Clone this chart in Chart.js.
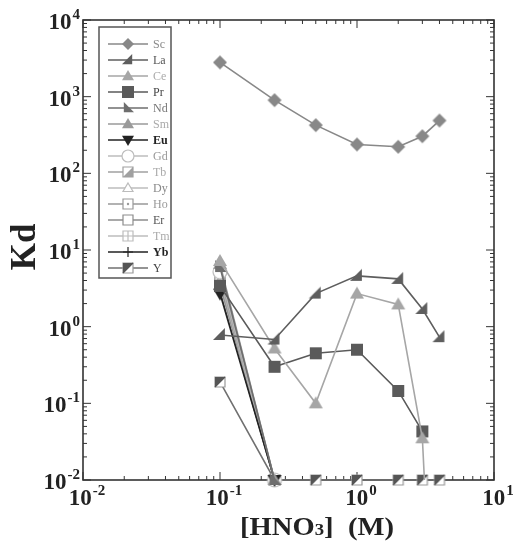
<!DOCTYPE html>
<html><head><meta charset="utf-8">
<script src="https://cdn.jsdelivr.net/npm/chart.js@4/dist/chart.umd.min.js"></script>
<style>html,body{margin:0;padding:0;background:#fff}#wrap{width:515px;height:551px}</style>
</head><body><div id="wrap"><canvas id="c" width="515" height="551"></canvas></div>
<script>
// ---- data ----
const hno3 = [0.1, 0.25, 0.5, 1, 2, 3, 4];
const seriesNames = ["Sc","La","Ce","Pr","Nd","Sm","Eu","Gd","Tb","Dy","Ho","Er","Tm","Yb","Y"];
const Sc = [2800, 900, 425, 238, 222, 305, 488];
const La = [0.78, 0.68, 2.7, 4.6, 4.2, 1.7, 0.73];
const Ce = [7.2, 0.52, 0.10, 2.7, 1.95, 0.035, 0.000001];
const Pr = [3.4, 0.30, 0.45, 0.50, 0.145, 0.043, null];
const Nd = [6.0, 0.01, null, null, null, null, null];
const Sm = [6.6, 0.01, null, null, null, null, null];
const Eu = [2.7, 0.01, null, null, null, null, null];
const Gd = [5.2, 0.01, null, null, null, null, null];
const Tb = [4.6, 0.01, null, null, null, null, null];
const Dy = [4.2, 0.01, null, null, null, null, null];
const Ho = [3.9, 0.01, null, null, null, null, null];
const Er = [3.6, 0.01, null, null, null, null, null];
const Tm = [3.3, 0.01, null, null, null, null, null];
const Yb = [3.0, 0.01, null, null, null, null, null];
const Y  = [0.19, 0.01, 0.01, 0.01, 0.01, 0.01, 0.01];
const xTickExps = [-2, -1, 0, 1];
const yTickExps = [-2, -1, 0, 1, 2, 3, 4];
const yTitle = "Kd";

// ---- styles ----
const styles = {
  Sc:{m:"diamond", c:"#888888", r:7, t:"#8a8a8a"},
  La:{m:"rtBR", c:"#5e5e5e", r:7, t:"#555"},
  Ce:{m:"triUp", c:"#a6a6a6", r:7, t:"#aaa"},
  Pr:{m:"square", c:"#5a5a5a", r:6, t:"#444"},
  Nd:{m:"rtBL", c:"#6e6e6e", r:7, t:"#777"},
  Sm:{m:"triUp", c:"#9a9a9a", r:7, t:"#aaa"},
  Eu:{m:"triDown", c:"#222222", r:7, t:"#222", b:true},
  Gd:{m:"circle", c:"#bdbdbd", r:7, t:"#999"},
  Tb:{m:"sqTri", c:"#a0a0a0", r:5, t:"#aaa"},
  Dy:{m:"triOpen", c:"#bcbcbc", r:5, t:"#888"},
  Ho:{m:"sqDot", c:"#999999", r:5, t:"#999"},
  Er:{m:"sqOpen", c:"#8c8c8c", r:5, t:"#555"},
  Tm:{m:"sqPlus", c:"#bdbdbd", r:5, t:"#aaa"},
  Yb:{m:"plus", c:"#222222", r:5, t:"#222", b:true},
  Y: {m:"sqHalf", c:"#707070", r:5, t:"#444"}
};

function drawMarker(ctx, type, x, y, r, c){
  ctx.save();
  ctx.translate(x, y);
  ctx.lineWidth = 1.2;
  ctx.strokeStyle = c; ctx.fillStyle = c;
  ctx.beginPath();
  switch(type){
    case "diamond": ctx.moveTo(0,-r); ctx.lineTo(r,0); ctx.lineTo(0,r); ctx.lineTo(-r,0); ctx.closePath(); ctx.fill(); break;
    case "rtBR": ctx.moveTo(-r,r*0.7); ctx.lineTo(r*0.7,r*0.7); ctx.lineTo(r*0.7,-r); ctx.closePath(); ctx.fill(); break;
    case "rtBL": ctx.moveTo(-r*0.7,-r); ctx.lineTo(-r*0.7,r*0.7); ctx.lineTo(r,r*0.7); ctx.closePath(); ctx.fill(); break;
    case "triUp": ctx.moveTo(0,-r); ctx.lineTo(r,r*0.7); ctx.lineTo(-r,r*0.7); ctx.closePath(); ctx.fill(); break;
    case "triDown": ctx.moveTo(0,r); ctx.lineTo(r,-r*0.7); ctx.lineTo(-r,-r*0.7); ctx.closePath(); ctx.fill(); break;
    case "square": ctx.rect(-r,-r,2*r,2*r); ctx.fill(); break;
    case "circle": ctx.arc(0,0,r,0,Math.PI*2); ctx.fillStyle="#fff"; ctx.fill(); ctx.stroke(); break;
    case "sqTri": ctx.rect(-r,-r,2*r,2*r); ctx.fillStyle="#fff"; ctx.fill(); ctx.stroke();
      ctx.beginPath(); ctx.moveTo(-r,r); ctx.lineTo(r,r); ctx.lineTo(r,-r); ctx.closePath(); ctx.fillStyle=c; ctx.fill(); break;
    case "triOpen": ctx.moveTo(0,-r); ctx.lineTo(r,r*0.7); ctx.lineTo(-r,r*0.7); ctx.closePath(); ctx.fillStyle="#fff"; ctx.fill(); ctx.stroke(); break;
    case "sqDot": ctx.rect(-r,-r,2*r,2*r); ctx.fillStyle="#fff"; ctx.fill(); ctx.stroke();
      ctx.beginPath(); ctx.arc(0,0,1.2,0,Math.PI*2); ctx.fillStyle=c; ctx.fill(); break;
    case "sqOpen": ctx.rect(-r,-r,2*r,2*r); ctx.fillStyle="#fff"; ctx.fill(); ctx.stroke(); break;
    case "sqPlus": ctx.rect(-r,-r,2*r,2*r); ctx.fillStyle="#fff"; ctx.fill(); ctx.stroke();
      ctx.beginPath(); ctx.moveTo(-r,0); ctx.lineTo(r,0); ctx.moveTo(0,-r); ctx.lineTo(0,r); ctx.stroke(); break;
    case "plus": ctx.moveTo(-r,0); ctx.lineTo(r,0); ctx.moveTo(0,-r); ctx.lineTo(0,r); ctx.stroke(); break;
    case "sqHalf": ctx.rect(-r,-r,2*r,2*r); ctx.fillStyle="#fff"; ctx.fill(); ctx.strokeStyle="#999"; ctx.stroke();
      ctx.beginPath(); ctx.moveTo(-r,-r); ctx.lineTo(r,-r); ctx.lineTo(-r,r); ctx.closePath(); ctx.fillStyle="#555"; ctx.fill();
      ctx.beginPath(); ctx.moveTo(r,-r); ctx.lineTo(-r,r); ctx.strokeStyle="#555"; ctx.stroke(); break;
  }
  ctx.restore();
}
function markerCanvas(type, r, c){
  const cv = document.createElement("canvas");
  const s = Math.ceil(2*r+4);
  cv.width = s; cv.height = s;
  drawMarker(cv.getContext("2d"), type, s/2, s/2, r, c);
  return cv;
}

const seriesData = {Sc,La,Ce,Pr,Nd,Sm,Eu,Gd,Tb,Dy,Ho,Er,Tm,Yb,Y};
const datasets = seriesNames.map(n => {
  const st = styles[n];
  return {
    label: n,
    data: hno3.map((x,i) => ({x, y: seriesData[n][i]})),
    borderColor: st.c,
    backgroundColor: st.c,
    borderWidth: 1.6,
    pointStyle: markerCanvas(st.m, st.r, st.c),
    pointRadius: st.r,
    tension: 0,
    spanGaps: false,
    clip: n === "Ce" ? 0 : false
  };
});

const serif = '"Liberation Serif", "DejaVu Serif", serif';

function drawPow(ctx, exp, x, y, align){
  ctx.save();
  ctx.fillStyle = "#222";
  ctx.textBaseline = "alphabetic";
  ctx.font = "bold 23px " + serif;
  const wb = ctx.measureText("10").width;
  ctx.font = "bold 15px " + serif;
  const es = String(exp);
  const we = ctx.measureText(es).width;
  let x0 = align === "right" ? x - wb - we - 1 : x - (wb + we + 1)/2;
  ctx.font = "bold 23px " + serif;
  ctx.textAlign = "left";
  ctx.fillText("10", x0, y);
  ctx.font = "bold 15px " + serif;
  ctx.fillText(es, x0 + wb + 1, y - 10);
  ctx.restore();
}

const axesPlugin = {
  id: "axesPlugin",
  beforeDatasetsDraw(chart){
    const {ctx, chartArea: a, scales} = chart;
    const xs = scales.x, ys = scales.y;
    ctx.save();
    ctx.strokeStyle = "#333"; ctx.lineWidth = 1.6;
    ctx.strokeRect(a.left, a.top, a.right - a.left, a.bottom - a.top);
    ctx.lineWidth = 1;
    ctx.beginPath();
    for (let d = xTickExps[0]; d <= xTickExps[xTickExps.length-1]; d++){
      for (let k = 1; k <= 9; k++){
        const v = k * Math.pow(10, d);
        if (v > Math.pow(10, xTickExps[xTickExps.length-1]) + 1e-9) break;
        const px = xs.getPixelForValue(v);
        const L = k === 1 ? 8 : 4;
        ctx.moveTo(px, a.bottom); ctx.lineTo(px, a.bottom - L);
        ctx.moveTo(px, a.top); ctx.lineTo(px, a.top + L);
      }
    }
    for (let d = yTickExps[0]; d <= yTickExps[yTickExps.length-1]; d++){
      for (let k = 1; k <= 9; k++){
        const v = k * Math.pow(10, d);
        if (v > Math.pow(10, yTickExps[yTickExps.length-1]) + 1e-9) break;
        const py = ys.getPixelForValue(v);
        const L = k === 1 ? 8 : 4;
        ctx.moveTo(a.left, py); ctx.lineTo(a.left + L, py);
        ctx.moveTo(a.right, py); ctx.lineTo(a.right - L, py);
      }
    }
    ctx.stroke();
    ctx.restore();
  },
  afterDraw(chart){
    const {ctx, chartArea: a, scales} = chart;
    const xs = scales.x, ys = scales.y;
    xTickExps.forEach(e => drawPow(ctx, e, xs.getPixelForValue(Math.pow(10,e)) + 4, a.bottom + 25, "center"));
    yTickExps.forEach(e => drawPow(ctx, e, a.left - 3, ys.getPixelForValue(Math.pow(10,e)) + 9, "right"));
    ctx.save();
    ctx.fillStyle = "#222";
    ctx.textBaseline = "alphabetic";
    const parts = [["[HNO", 26], ["3", 17], ["]  (M)", 26]];
    let tw = 0;
    parts.forEach(p => { ctx.font = "bold " + p[1] + "px " + serif; tw += ctx.measureText(p[0]).width; });
    const sx = 1.1;
    let cx = 317 - tw*sx/2;
    const by = 535;
    parts.forEach(p => {
      ctx.font = "bold " + p[1] + "px " + serif;
      ctx.save(); ctx.translate(cx, by); ctx.scale(sx, 1); ctx.fillText(p[0], 0, 0); ctx.restore();
      cx += ctx.measureText(p[0]).width * sx;
    });
    ctx.translate(35, 247);
    ctx.rotate(-Math.PI/2);
    ctx.font = "bold 35px " + serif;
    ctx.textAlign = "center";
    ctx.fillText(yTitle, 0, 0);
    ctx.restore();
    // legend
    ctx.save();
    ctx.fillStyle = "#fff";
    ctx.strokeStyle = "#555"; ctx.lineWidth = 1.5;
    ctx.fillRect(99, 27, 72, 251);
    ctx.strokeRect(99, 27, 72, 251);
    seriesNames.forEach((n, i) => {
      const st = styles[n];
      const yy = 44 + 16 * i;
      ctx.strokeStyle = st.c; ctx.lineWidth = 1.5;
      ctx.beginPath(); ctx.moveTo(108, yy); ctx.lineTo(148, yy); ctx.stroke();
      drawMarker(ctx, st.m, 128, yy, Math.min(st.r, 6), st.c);
      ctx.fillStyle = st.t;
      ctx.font = (st.b ? "bold " : "") + "12px " + serif;
      ctx.textBaseline = "middle";
      ctx.fillText(n, 153, yy + 1);
    });
    ctx.restore();
  }
};

new Chart(document.getElementById("c"), {
  type: "line",
  data: { datasets },
  options: {
    responsive: false,
    animation: false,
    layout: { padding: { left: 83, right: 21, top: 20, bottom: 71 } },
    plugins: { legend: { display: false }, tooltip: { enabled: false } },
    scales: {
      x: { type: "logarithmic", min: 0.01, max: 10, display: false },
      y: { type: "logarithmic", min: 0.01, max: 10000, display: false }
    }
  },
  plugins: [axesPlugin]
});
</script>
</body></html>
